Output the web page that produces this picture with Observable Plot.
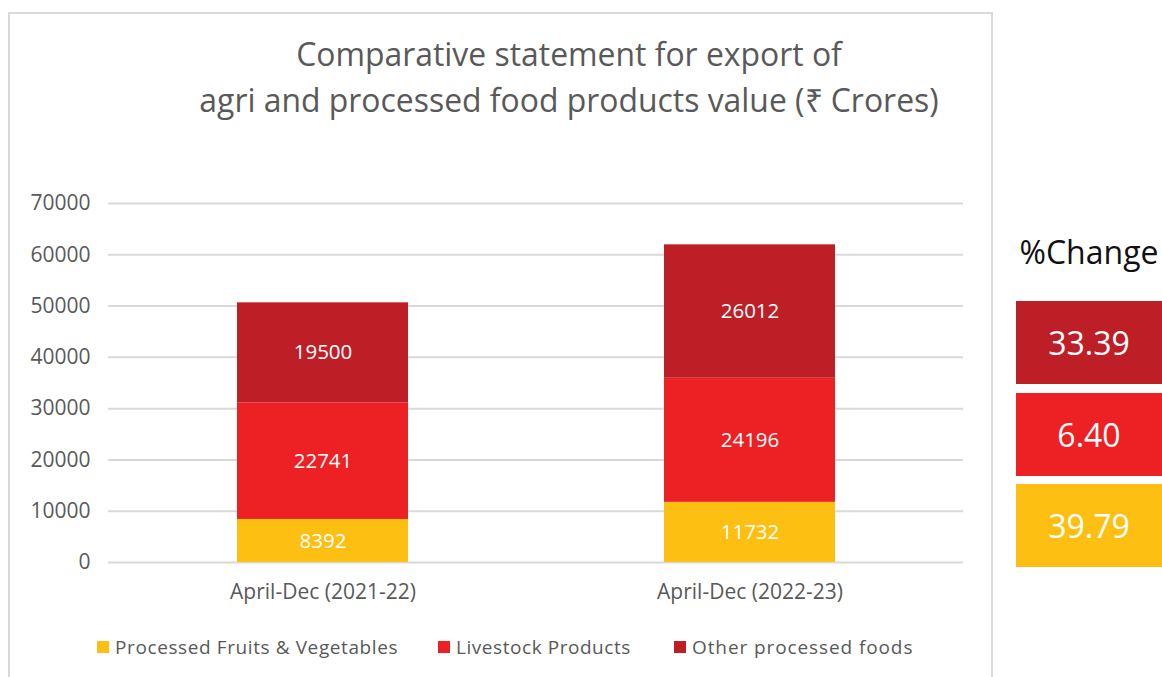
<!DOCTYPE html>
<html>
<head>
<meta charset="utf-8">
<script src="https://cdn.jsdelivr.net/npm/d3@7"></script>
<script src="https://cdn.jsdelivr.net/npm/@observablehq/plot@0.6"></script>
<style>
  html, body { margin: 0; padding: 0; background: #fff; }
  body { width: 1162px; height: 677px; position: relative; overflow: hidden; font-family: "Open Sans", sans-serif; }
  #panel { position: absolute; left: 8px; top: 12px; width: 985px; height: 700px; border: 2px solid #d9d9d9; box-sizing: border-box; }
  #title { position: absolute; left: 8px; width: 1122px; top: 31px; text-align: center; color: #595959; font-size: 31.9px; line-height: 46px; }
  #chart { position: absolute; left: 0; top: 180px; }
  #legend { position: absolute; top: 634px; left: 0; width: 1000px; height: 28px; }
  .li { position: absolute; display: flex; align-items: center; font-size: 19px; color: #595959; }
  .sw { width: 12px; height: 12px; margin-right: 6px; }
  #pctTitle { position: absolute; left: 1016px; width: 146px; top: 230px; text-align: center; font-size: 32px; color: #111; }
  .box { position: absolute; left: 1016px; width: 146px; height: 83px; color: #fff; font-size: 32px; display: flex; align-items: center; justify-content: center; }
</style>
</head>
<body>
<div id="panel"></div>
<div id="title">Comparative statement for export of<br>agri and processed food products value (₹ Crores)</div>
<div id="chart"></div>
<div id="legend"></div>
<div id="pctTitle">%Change</div>
<div id="boxes"></div>
<script>
const periods = ["April-Dec (2021-22)", "April-Dec (2022-23)"];
const seriesNames = ["Processed Fruits & Vegetables", "Livestock Products", "Other processed foods"];
const seriesColors = ["#FCBF12", "#ED2024", "#BE1E26"];
const fruitsVeg = [8392, 11732];
const livestock = [22741, 24196];
const otherFoods = [19500, 26012];
const pctChange = ["39.79", "6.40", "33.39"];
const yTicks = [0, 10000, 20000, 30000, 40000, 50000, 60000, 70000];

const seriesValues = [fruitsVeg, livestock, otherFoods];
const data = [];
seriesNames.forEach((s, i) => periods.forEach((p, j) => data.push({period: p, series: s, value: seriesValues[i][j]})));

const chart = Plot.plot({
  width: 995,
  height: 440,
  marginLeft: 108,
  marginRight: 32,
  marginTop: 23,
  marginBottom: 58,
  style: {fontFamily: "Open Sans, sans-serif", fontSize: "20px", color: "#595959", background: "transparent"},
  x: {domain: periods, paddingInner: 0.6, paddingOuter: 0.3, label: null},
  y: {domain: [0, 70000], label: null},
  color: {domain: seriesNames, range: seriesColors},
  marks: [
    Plot.ruleY(yTicks, {stroke: "#d9d9d9", strokeWidth: 2, strokeOpacity: 1}),
    Plot.barY(data, Plot.stackY({x: "period", y: "value", fill: "series"})),
    Plot.text(data, Plot.stackY({x: "period", y: "value", z: "series", text: d => String(d.value), fill: "#fff", fontSize: 20.5})),
    Plot.axisY({ticks: yTicks, tickFormat: d => String(d), tickSize: 0, tickPadding: 18, fontSize: 21, label: null}),
    Plot.axisX({tickSize: 0, tickPadding: 22, fontSize: 21, label: null})
  ]
});
document.getElementById("chart").appendChild(chart);

// legend
const legendX = [97, 438, 674];
const legendSpacing = [0.6, 0.55, 0.9];
const legend = document.getElementById("legend");
seriesNames.forEach((s, i) => {
  const el = document.createElement("div");
  el.className = "li";
  el.style.left = legendX[i] + "px";
  el.innerHTML = `<span class="sw" style="background:${seriesColors[i]}"></span><span style="letter-spacing:${legendSpacing[i]}px">${s.replace("&", "&amp;")}</span>`;
  legend.appendChild(el);
});

// % change boxes (top: other processed, middle: livestock, bottom: fruits & veg)
const boxTops = [484, 393, 301];
const boxes = document.getElementById("boxes");
pctChange.forEach((v, i) => {
  const el = document.createElement("div");
  el.className = "box";
  el.style.top = boxTops[i] + "px";
  el.style.background = seriesColors[i];
  el.textContent = v;
  boxes.appendChild(el);
});
</script>
</body>
</html>
